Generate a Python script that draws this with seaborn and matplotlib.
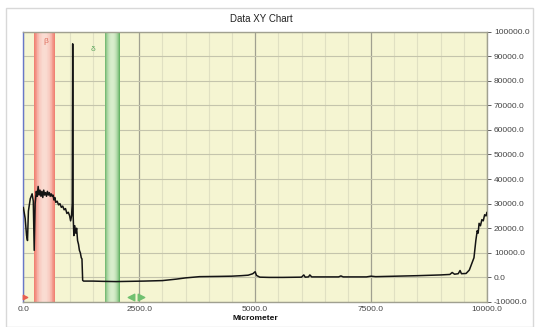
import numpy as np
import pandas as pd
import matplotlib
matplotlib.use("Agg")
import matplotlib.pyplot as plt
import seaborn as sns
from matplotlib.patches import Rectangle

# ---- data ----
micrometer = [0, 40, 70, 90, 110, 150, 190, 215, 235, 255, 280, 300, 320, 340, 360, 380, 400,
              420, 440, 460, 480, 500, 520, 540, 560, 580, 600, 620, 640, 660, 680, 700, 730,
              760, 790, 820, 850, 880, 910, 940, 970, 1000, 1020, 1040, 1055, 1065, 1075, 1090,
              1110, 1130, 1150, 1170, 1190, 1210, 1230, 1250, 1265, 1280, 1300, 1500, 1700,
              2000, 2300, 2600, 3000, 3300, 3500, 3800, 4200, 4500, 4700, 4850, 4950, 5000,
              5030, 5100, 5300, 5600, 6000, 6050, 6080, 6150, 6180, 6220, 6800, 6850, 6900,
              7400, 7500, 7600, 8500, 9000, 9200, 9250, 9300, 9380, 9420, 9450, 9550, 9620,
              9680, 9720, 9760, 9790, 9810, 9830, 9860, 9890, 9920, 9950, 9980, 10000]
signal = [28500, 24000, 17000, 15000, 27000, 32000, 34000, 31000, 11000, 30000, 35000, 33000,
          37000, 33500, 35500, 33000, 35000, 32500, 35500, 33500, 34500, 33000, 35000, 33500,
          34500, 33000, 34000, 33000, 33500, 31500, 32500, 30500, 31000, 29500, 30000, 28500,
          29000, 27500, 28000, 26000, 26500, 25000, 23000, 25000, 30000, 95000, 25000, 17000,
          21000, 18000, 20000, 15000, 13500, 11000, 10000, 8000, 7500, -1200, -1500, -1500,
          -1600, -1700, -1600, -1500, -1300, -700, -200, 300, 400, 500, 700, 900, 1500, 2300,
          800, 100, 0, 0, 100, 1000, 100, 200, 1000, 200, 200, 600, 200, 200, 500, 300, 700,
          1000, 1200, 2000, 1300, 1500, 2800, 1500, 1600, 3000, 6000, 8000, 15000, 19000,
          18000, 22000, 21000, 23500, 23000, 25500, 25000, 26500]

red_band = [222, 690]
green_band = [1760, 2080]
x_ticks = [0, 2500, 5000, 7500, 10000]
y_ticks = list(range(-10000, 100001, 10000))

df = pd.DataFrame({"Micrometer": micrometer, "Value": signal})

sns.set_style("white")
plt.rcParams["font.family"] = ["Liberation Sans", "DejaVu Sans"]

fig = plt.figure(figsize=(5.36, 3.27), dpi=100)
ax = fig.add_axes([0.0435, 0.0765, 0.865, 0.827])
ax.set_facecolor("#F5F5D2")

# outer frame
fig.patches.append(Rectangle((0.011, 0.0), 0.984, 0.975, transform=fig.transFigure,
                             fill=False, edgecolor="#D8D8D8", linewidth=1.0))
fig.text(0.487, 0.942, "Data XY Chart", ha="center", va="center", fontsize=7, color="#222222")

# grid
for xv in np.arange(0, 10001, 500):
    major = xv % 2500 == 0
    ax.axvline(xv, color="#A0A090" if major else "#E0E0C2", lw=0.9 if major else 0.8, zorder=0.5)
for yv in y_ticks:
    ax.axhline(yv, color="#C4C4AC", lw=0.8, zorder=0.5)

# gradient bands
def band(lo, hi, edge, center, n=30):
    edges = np.linspace(lo, hi, n + 1)
    e = np.array(matplotlib.colors.to_rgb(edge))
    c = np.array(matplotlib.colors.to_rgb(center))
    for i in range(n):
        t = abs((i + 0.5) / n - 0.5) * 2
        col = c + (e - c) * t ** 2.2
        ax.axvspan(edges[i], edges[i + 1], color=col, lw=0, zorder=1)

band(red_band[0], red_band[1], "#EE6A5A", "#FADCD2")
band(green_band[0], green_band[1], "#5EAE5E", "#D8EDCB")

sns.lineplot(data=df, x="Micrometer", y="Value", ax=ax, color="#141414", lw=1.1,
             estimator=None, sort=False, zorder=3)

# small annotation marks
ax.text(440, 97500, "β", color="#E07060", fontsize=6, va="top")
ax.text(1450, 94000, "δ", color="#60A860", fontsize=6, va="top")
ax.scatter([30], [-8000], marker=">", s=10, color="#E86050", zorder=4, clip_on=False)
ax.scatter([2330], [-8000], marker="<", s=22, color="#70C070", zorder=4)
ax.scatter([2530], [-8000], marker=">", s=22, color="#70C070", zorder=4)

ax.set_xlim(0, 10000)
ax.set_ylim(-10000, 100000)
ax.set_xticks(x_ticks)
ax.set_xticklabels([f"{v:.1f}" for v in x_ticks])
ax.set_yticks(y_ticks)
ax.set_yticklabels([f"{v:.1f}" for v in y_ticks])
ax.yaxis.tick_right()
ax.tick_params(axis="y", labelsize=6, colors="#444444", length=3, width=0.6, pad=2)
ax.tick_params(axis="x", labelsize=6, colors="#444444", length=0, pad=3)
ax.set_ylabel("")
ax.set_xlabel("Micrometer", fontsize=6, fontweight="bold", labelpad=1, color="#111111")

for s in ["top", "bottom", "right"]:
    ax.spines[s].set_color("#A0A090")
    ax.spines[s].set_linewidth(1.0)
ax.spines["left"].set_color("#6878C8")
ax.spines["left"].set_linewidth(1.0)

fig.savefig("out.png", dpi=100)
